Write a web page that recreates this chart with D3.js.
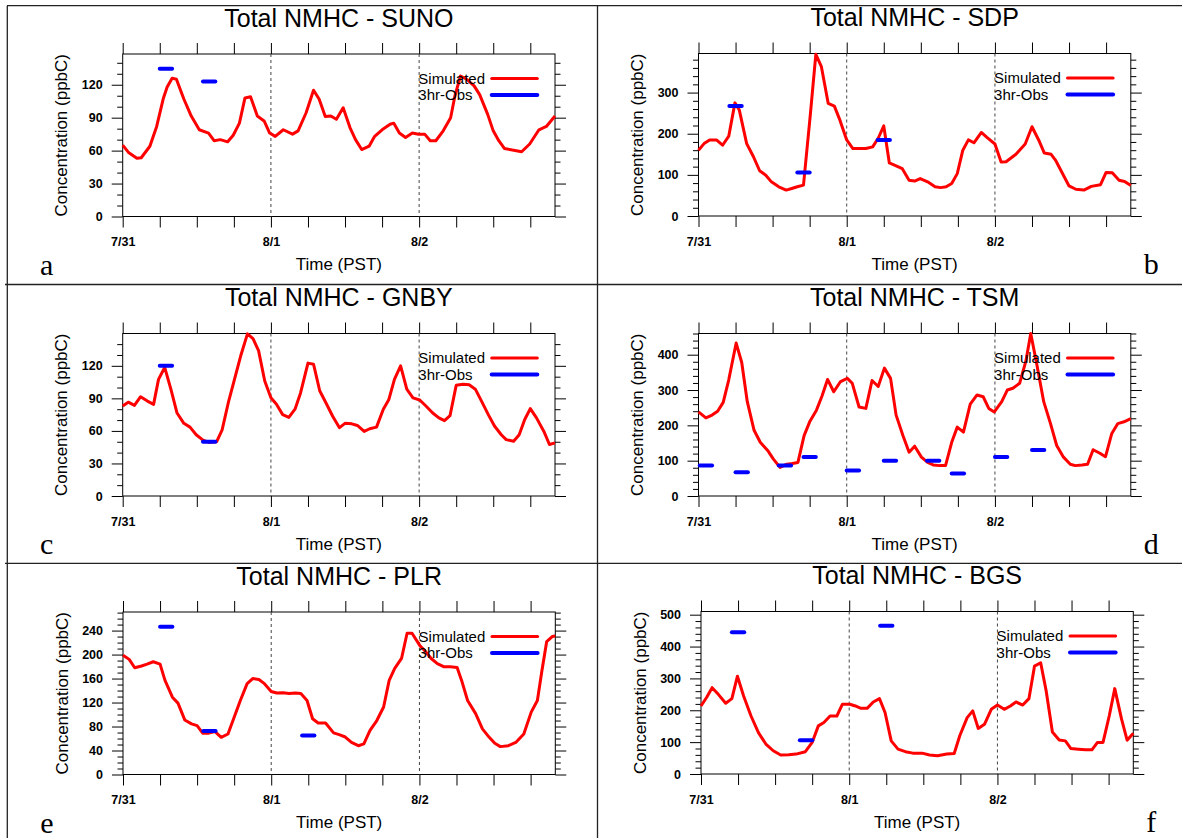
<!DOCTYPE html>
<html>
<head>
<meta charset="utf-8">
<script src="https://cdn.jsdelivr.net/npm/d3@7"></script>
<style>
body { margin: 0; background: #fff; }
</style>
</head>
<body>
<div id="vis"></div>
<script>
// stations, panel letters and day labels
var stations = ['SUNO', 'SDP', 'GNBY', 'TSM', 'PLR', 'BGS'];
var letters = ['a', 'b', 'c', 'd', 'e', 'f'];
var dayLabels = ['7/31', '8/1', '8/2'];
var dayHours = [0, 24, 48];
var legendLabels = ['Simulated', '3hr-Obs'];

// simulated total NMHC, [hour since 7/31 00 PST, ppbC]
var simSUNO = [[0,65],[1,58],[2.3,53],[3,53.5],[4.4,64],[5.5,82],[6.6,108],[7.2,118],[8,126],[8.7,125],[9.9,107],[11.1,91.5],[12.4,79],[13.9,76],[14.8,69],[15.8,70],[17,68],[17.9,74],[18.9,85],[19.8,108],[20.7,109],[21.8,91.5],[22.9,87],[23.8,76],[24.7,73],[26,79],[27.5,75],[28.4,78],[29.7,94.5],[30.9,115],[31.8,107],[32.8,91],[33.7,91.5],[34.6,88.5],[35.7,99],[36.8,81],[37.7,70],[38.7,61],[39.9,64],[40.8,73],[42,79],[43.3,84],[43.9,85],[44.8,76],[45.8,72],[46.9,76],[47.9,75],[48.9,75],[49.8,69],[50.7,69],[51.9,78],[53.1,90],[53.8,110],[54.7,128],[55.7,125],[56.9,119],[57.8,111],[59.1,93],[60,78],[60.9,69],[61.8,62],[63.1,60.5],[64.6,59],[65.9,66],[67.4,79],[68.6,82],[70,91.5]];
var simSDP = [[0,160],[0.9,176],[1.8,185],[2.9,185],[3.9,172],[4.9,194],[5.9,275],[6.6,258],[7.8,176],[8.9,144],[9.9,110],[10.9,99],[11.8,83],[13,71],[14.2,63],[15.1,67],[16,71],[17,75],[18.1,245],[19,393],[19.9,363],[21,274],[22,267],[22.9,233],[24,185],[25,164],[26,164],[27.1,164],[28.2,168],[29.1,189],[30,219],[30.9,129],[32,122],[33,115],[34.1,87],[35,85],[35.9,91],[37.1,83],[38.3,71],[39.2,69],[40.1,71],[41,79],[41.9,103],[42.8,160],[43.7,185],[44.6,178],[45.8,203],[46.7,191],[48,175],[49,131],[49.8,132],[51.4,150],[52.9,175],[54,217],[55.2,181],[56,153],[57.1,150],[57.8,136],[60,73],[61.1,65],[62.4,63],[63.6,72],[65.1,76],[66,106],[67,105],[68.1,87],[69,84],[70,74]];
var simGNBY = [[0,83],[0.9,86.5],[1.9,83.5],[2.9,91.5],[4,87.5],[5,84.5],[5.8,107.5],[6.8,118.5],[7.8,98.5],[8.8,76.5],[9.9,67],[10.9,63.5],[11.9,56.5],[13,51.5],[14,49.5],[15.2,50],[16.1,61],[17.1,86],[18.1,107.5],[19.1,129],[20.2,149.5],[21.1,145],[22,134],[23,106],[24,90.5],[24.9,84.5],[25.9,75],[26.9,72.5],[27.9,80],[28.8,95],[30,122.5],[30.9,121.5],[31.9,97],[32.9,86],[34,73.5],[35.1,63],[36,67],[37.1,66.5],[38,65],[39.1,59.5],[40,62],[41.1,63.5],[42.2,80],[43.1,89],[44,107.5],[45,120],[46,98.5],[47,90.5],[48.1,88.5],[49.1,83],[50.2,76.5],[51.2,72],[52.1,69.5],[53,74],[54,102],[55.1,103],[56.1,102.5],[57.1,98.5],[58.1,87.5],[59.2,75],[60.2,64.5],[61.3,56.5],[62.1,52],[63.3,50.5],[64.2,56.5],[65.1,70.5],[66,80.5],[67,72],[68.2,59.5],[69.1,47.5],[70,49]];
var simTSM = [[0,238],[1.2,221],[2.2,229],[3.1,240],[4,265],[4.9,329],[6.1,433],[7,378],[7.9,267],[9,186],[10,152],[11.2,129],[12.1,105],[13.2,81],[14.3,90],[15.2,92],[16.1,95],[17.1,171],[18,210],[19.1,243],[20,283],[20.9,330],[21.9,295],[23,324],[24.1,333],[24.9,319],[26,252],[27.1,248],[28.1,327],[29.1,310],[30.1,362],[31.1,333],[32,229],[33.1,171],[34.1,124],[35,141],[36.1,110],[37.1,95],[38,88],[39.1,86],[40,86],[41,152],[41.9,195],[42.9,181],[44,260],[45.1,286],[46.1,281],[47,248],[47.9,238],[49.1,267],[50,300],[50.9,305],[52,319],[53,381],[53.8,460],[54.8,371],[55.9,267],[57,205],[58,143],[59.1,110],[60.2,90],[61,86],[62.1,88],[63,90],[63.9,131],[65,121],[65.9,111],[66.9,176],[67.9,205],[68.9,210],[70,219]];
var simPLR = [[0,199],[1,192],[1.9,178],[3,181],[3.9,184],[4.9,188],[6,184],[6.8,157],[8,129],[8.9,119],[10,91],[11.1,84.5],[12,81.5],[12.9,69],[13.9,69],[14.9,71.5],[15.9,62],[17,67.5],[18,95.5],[19,123.5],[20.1,151.5],[21,160],[22,158.5],[22.9,151.5],[24,138.5],[24.9,136],[25.9,136.5],[26.9,135],[27.9,136],[28.8,135],[29.8,123.5],[30.7,93],[31.6,86],[32.8,86],[34.1,69.5],[35,66.5],[35.9,63],[37,53.5],[38.1,48],[39,51],[40,73.5],[41.1,90],[42.2,112.5],[43.1,157],[44,177],[45.1,193.5],[46,235.5],[46.8,235.5],[48.1,214.5],[49,205],[49.9,193.5],[50.9,185],[52,179.5],[53,179.5],[54.1,178.5],[54.9,154.5],[55.8,123.5],[57.1,101.5],[58.2,76],[59.3,62],[60.2,52],[61.1,46.5],[62.4,48],[63.6,53.5],[64.9,67.5],[66.1,104],[67.1,123.5],[67.8,171],[68.6,221.5],[69.5,230],[70,231]];
var simBGS = [[0,213.5],[0.9,240],[1.8,271],[2.8,250],[4,222],[5,236.5],[5.9,307],[6.9,245],[8.1,182],[9.3,130],[10.5,94],[11.7,73],[12.9,59.5],[14.2,60.5],[15.4,62.5],[16.9,70],[18,99],[19,151],[19.9,161.5],[20.9,182],[22,182],[22.9,219],[24.1,219],[25,213.5],[25.9,206],[26.9,206],[27.9,226],[28.9,236.5],[29.8,193],[30.8,104],[31.9,78],[33.1,70],[34.3,65.5],[35.8,65.5],[37,59.5],[38.3,57.5],[39.8,62.5],[41,64.5],[41.9,120],[43.1,177],[44,198],[44.9,143],[45.9,156],[47,203],[48,216.5],[49.1,203],[50.1,213.5],[51,226],[52.1,216.5],[53.1,236.5],[54,338.5],[55,349],[55.9,260],[56.9,132],[58,107],[59,104],[59.9,80],[61.1,78],[62.3,76],[63.3,76],[64.2,99],[65.1,99],[66.1,182],[67,268],[68.1,172],[69,106],[70,128]];

// 3hr observations, [center hour, ppbC]
var obsSUNO = [[7,134.5],[14,123]];
var obsSDP = [[6,267.5],[17,105.5],[30,185]];
var obsGNBY = [[7,120],[14,50]];
var obsTSM = [[1.2,86],[7,67],[14,86],[18,110.5],[25,72.5],[31,100],[38,100],[42,64],[49,110.5],[55,130.5]];
var obsPLR = [[7,246.5],[14,72.5],[30,65]];
var obsBGS = [[6,445],[17,106],[30,465.5]];

// y axis ranges and tick spacing
var yMax = [148, 395, 149.8, 460, 271, 510];
var yMajor = [30, 100, 30, 100, 40, 100];
var yMinor = [10, 20, 10, 20, 10, 20];

var simData = [simSUNO, simSDP, simGNBY, simTSM, simPLR, simBGS];
var obsData = [obsSUNO, obsSDP, obsGNBY, obsTSM, obsPLR, obsBGS];

var width = 1182, height = 838;
var pw = 432.3, ph = 162.5;
var panelLeft = [122.7, 698.5, 122.7, 698.5, 123, 701];
var panelTop = [54, 53.5, 333.5, 333.5, 612, 611.5];
var sans = '"Liberation Sans", Arial, Helvetica, sans-serif';

var svg = d3.select('#vis')
            .append('svg')
            .attr('width', width)
            .attr('height', height);

svg.append('rect').attr('width', width).attr('height', height).attr('fill', '#fff');

// frame lines between the panels
var grid = svg.append('g').attr('stroke', '#222').attr('stroke-width', 1.3);
grid.append('line').attr('x1', 7).attr('x2', width).attr('y1', 5.7).attr('y2', 5.7);
grid.append('line').attr('x1', 7.3).attr('x2', 7.3).attr('y1', 5.7).attr('y2', height);
grid.append('line').attr('x1', 597.5).attr('x2', 597.5).attr('y1', 5.7).attr('y2', height);
grid.append('line').attr('x1', 5).attr('x2', width).attr('y1', 284.5).attr('y2', 284.5);
grid.append('line').attr('x1', 5).attr('x2', width).attr('y1', 563.3).attr('y2', 563.3);

function styleTicks(sel) {
    sel.select('.domain').remove();
    sel.selectAll('.tick text')
        .attr('font-family', sans)
        .attr('font-size', 12.5)
        .attr('font-weight', 'bold')
        .attr('fill', '#000');
}

function drawPanel(i) {
    var g = svg.append('g')
        .attr('transform', 'translate(' + panelLeft[i] + ',' + panelTop[i] + ')');

    var x = d3.scaleLinear().domain([0, 70]).range([0, pw]);
    var y = d3.scaleLinear().domain([0, yMax[i]]).range([ph, 0]);

    var major = d3.range(0, yMax[i] + 0.001, yMajor[i]);
    var minor = d3.range(0, yMax[i] + 0.001, yMinor[i]).filter(function(v) { return v % yMajor[i] != 0; });
    var xticks = d3.range(0, 70, 6);

    // y axes, left with labels and right without
    g.append('g').call(d3.axisLeft(y).tickValues(major).tickSize(11).tickPadding(9)).call(styleTicks);
    g.append('g').call(d3.axisLeft(y).tickValues(minor).tickSize(5.5).tickFormat('')).call(styleTicks);
    g.append('g').attr('transform', 'translate(' + pw + ',0)')
        .call(d3.axisRight(y).tickValues(major).tickSize(11).tickFormat('')).call(styleTicks);
    g.append('g').attr('transform', 'translate(' + pw + ',0)')
        .call(d3.axisRight(y).tickValues(minor).tickSize(5.5).tickFormat('')).call(styleTicks);

    // x axes
    g.append('g').attr('transform', 'translate(0,' + ph + ')')
        .call(d3.axisBottom(x).tickValues(xticks).tickSize(11).tickPadding(10)
            .tickFormat(function(d) { var k = dayHours.indexOf(d); return k >= 0 ? dayLabels[k] : ''; }))
        .call(styleTicks);
    g.append('g')
        .call(d3.axisTop(x).tickValues(xticks).tickSize(11).tickFormat(''))
        .call(styleTicks);

    g.append('rect')
        .attr('width', pw).attr('height', ph)
        .attr('fill', 'none').attr('stroke', '#000').attr('stroke-width', 1);

    // day separators
    g.selectAll('.day')
        .data(dayHours.slice(1))
        .enter().append('line')
        .attr('class', 'day')
        .attr('x1', function(d) { return x(d); })
        .attr('x2', function(d) { return x(d); })
        .attr('y1', 0).attr('y2', ph)
        .attr('stroke', '#444')
        .attr('stroke-width', 1)
        .attr('stroke-dasharray', '3,3');

    var line = d3.line()
        .x(function(d) { return x(d[0]); })
        .y(function(d) { return y(d[1]); });

    g.append('path')
        .datum(simData[i])
        .attr('d', line)
        .attr('fill', 'none')
        .attr('stroke', '#ff0000')
        .attr('stroke-width', 3)
        .attr('stroke-linejoin', 'round');

    g.selectAll('.obs')
        .data(obsData[i])
        .enter().append('line')
        .attr('class', 'obs')
        .attr('x1', function(d) { return x(d[0] - 1); })
        .attr('x2', function(d) { return x(d[0] + 1); })
        .attr('y1', function(d) { return y(d[1]); })
        .attr('y2', function(d) { return y(d[1]); })
        .attr('stroke', '#0000ff')
        .attr('stroke-width', 4)
        .attr('stroke-linecap', 'round');

    // legend
    var leg = g.selectAll('.leg')
        .data(legendLabels)
        .enter().append('g')
        .attr('class', 'leg')
        .attr('transform', function(d, k) { return 'translate(0,' + (24.5 + k * 16.5) + ')'; });
    leg.append('text')
        .attr('x', pw - 136.7)
        .attr('dy', '0.36em')
        .attr('font-family', sans)
        .attr('font-size', 15)
        .text(function(d) { return d; });
    leg.append('line')
        .attr('x1', pw - 63.3).attr('x2', pw - 17.7)
        .attr('stroke', function(d, k) { return k == 0 ? '#ff0000' : '#0000ff'; })
        .attr('stroke-width', function(d, k) { return k == 0 ? 3 : 4; })
        .attr('stroke-linecap', 'round');

    // titles and axis labels
    g.append('text')
        .attr('x', pw / 2).attr('y', -27.5)
        .attr('text-anchor', 'middle')
        .attr('font-family', sans).attr('font-size', 25)
        .text('Total NMHC - ' + stations[i]);
    g.append('text')
        .attr('transform', 'translate(-55.5,' + (ph / 2) + ') rotate(-90)')
        .attr('text-anchor', 'middle')
        .attr('font-family', sans).attr('font-size', 17)
        .text('Concentration (ppbC)');
    g.append('text')
        .attr('x', pw / 2).attr('y', ph + 53.5)
        .attr('text-anchor', 'middle')
        .attr('font-family', sans).attr('font-size', 17)
        .text('Time (PST)');

    g.append('text')
        .attr('x', i % 2 == 0 ? -82.7 : pw + 13)
        .attr('y', 220.5)
        .attr('font-family', '"Liberation Serif", "Times New Roman", serif')
        .attr('font-size', 30)
        .text(letters[i]);
}

stations.forEach(function(s, i) { drawPanel(i); });
</script>
</body>
</html>
